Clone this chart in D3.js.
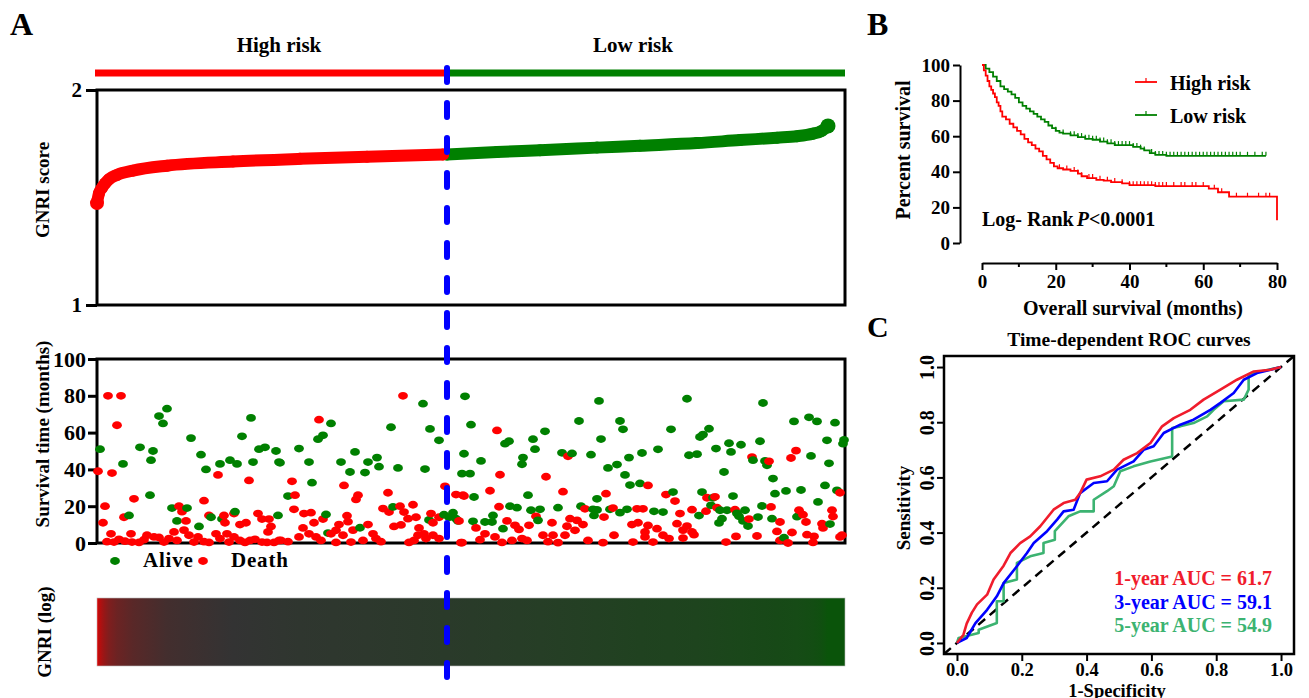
<!DOCTYPE html>
<html>
<head>
<meta charset="utf-8">
<script src="https://cdn.jsdelivr.net/npm/d3@7"></script>
<style>
  body { margin: 0; background: #fff; }
  svg text { font-family: "Liberation Serif", "Times New Roman", serif; font-weight: bold; fill: #000; }
</style>
</head>
<body>
<svg id="fig" width="1309" height="698"></svg>
<script>
// ---------------- Data ----------------
// Panel A: patients ranked by GNRI score
const nPatients = 748;
const cutRank = 350;               // high / low risk split
const riskGroups = ["High risk", "Low risk"];

// GNRI score along the ranking (high-risk part, then low-risk part)
const highRanks  = [0, 2, 5, 8, 12, 20, 36, 70, 136, 203, 270, 346];
const highScores = [1.474, 1.52, 1.545, 1.565, 1.585, 1.605, 1.625, 1.648, 1.667, 1.68, 1.69, 1.70];
const lowRanks   = [350, 400, 443, 500, 543, 600, 643, 680, 700, 716, 724, 731];
const lowScores  = [1.700, 1.712, 1.72, 1.732, 1.741, 1.753, 1.767, 1.778, 1.785, 1.797, 1.808, 1.833];

// Survival time (months) per patient rank
const alive = [
  [3,51],[26,43],[43,52],[56,50],[54,45],[62,69],[70,73],[66,65],[94,57],[104,48],[109,40],[123,43],[133,45],[140,43],
  [145,58],[154,68],[156,44],[162,51],[168,52],[179,50],[182,44],[53,26],[32,15],[75,19],[90,19],[80,12],[102,9],
  [114,14],[125,13],[138,17],[181,15],
  [234,65],[226,58.5],[221,56.4],[202,51.3],[183,43.6],[212,44],[258,49.5],[244,44],[253,38.6],[268,38.3],[271,44],
  [280,46.4],[282,41.5],[301,40.8],[328,40.2],[294,62.9],[326,75.7],[333,62],[342,55.8],[368,79.7],[367,48.5],
  [365,37.7],[215,32.8],[191,25.5],[229,15.5],[231,5.4],[263,8.3],[296,19.6],[332,12.5],[347,15.4],[356,16.5],
  [359,13.2],[352,14],[361,12],
  [374,64.3],[384,44.6],[373,37.7],[377,25],[408,54],[412,55.3],[426,46.4],[425,42.8],[436,56.4],[438,51],[448,60.7],
  [465,49],[475,48.7],[482,66.3],[494,48],[502,77.2],[504,56.5],[523,66.3],[526,61.8],[511,40.8],[520,42.6],[532,46.4],
  [545,48.9],[528,37],[533,31.5],[543,32.4],[431,26],[500,24],[413,20],[420,19.2],[434,17.8],[443,18.3],[461,19.2],
  [484,20],[496,18.3],[500,18],[497,15],[513,18.3],[523,16.5],[530,18.3],[396,15],[395,11.4],[388,11.4],[376,11.8],
  [406,7.8],[441,12.3],
  [590,78.4],[666,76.1],[574,61.8],[561,50.9],[603,57.6],[606,58.9],[612,62.1],[592,47.7],[600,48.3],[619,51.3],
  [632,54.2],[634,49.5],[644,53.4],[663,55.3],[656,45],[668,44.6],[670,42.2],[627,38.6],[697,66.1],[712,68.3],
  [720,66.1],[738,65.4],[730,55.8],[747,56],[746,54],[714,47.3],[732,43.3],[676,35],[678,26.8],[689,28.3],[704,28.8],
  [728,31.3],[740,28.6],[721,22.3],[636,25.5],[576,27.7],[605,27.7],[616,24.6],[614,20.5],[557,17.2],[566,16.8],
  [602,14.9],[623,17.8],[630,17.8],[640,16.1],[648,17.8],[642,14.5],[665,20.1],[661,14.1],[675,13.2],[625,13.2],
  [622,10.9],[646,12],[651,9.2],[700,14.3],[733,10.3],[687,2.9]
];
const dead = [
  [11,80],[24,80],[20,64],[1,39],[15,38],[121,37],[152,34],[8,20],[37,24],[6,11],[27,14],[82,20],[85,17],[89,12],
  [107,23],[112,15],[127,15],[128,11],[137,16],[143,10],[149,11],[161,16],[165,13],[172,13],[174,9],[171,6],[119,5],
  [14,5],[34,5],[77,6],
  [10,0.7],[17,0.5],[22,2],[28,1],[35,0.5],[42,0.3],[47,1.8],[50,4.2],[57,3.3],[62,3],[67,0.5],[72,2.4],[80,1.4],
  [87,7],[92,4.2],[97,0.5],[101,3.3],[107,0.7],[112,0.3],[123,2.4],[130,5],[132,0.5],[137,3.3],[143,1.4],[148,0.3],
  [153,1.4],[158,2],[165,0.5],[170,0.3],[177,0.3],[182,1.4],
  [306,80],[222,67],[195,33.5],[198,26],[247,31.3],[261,26],[259,23.7],[291,27.3],[348,30.8],[359,26.3],[366,26],
  [316,20.8],[303,20],[286,18.7],[292,16.8],[307,16.8],[311,13.2],[319,14],[322,8.2],[334,16],[336,11],[342,14],
  [197,18.3],[207,16],[214,16.5],[226,13],[217,11],[206,8.2],[242,10],[250,14.8],[251,11.6],[271,10],[239,6.9],
  [234,5],[246,4.2],[256,7],[276,5],[279,2.4],[297,9],[304,9.8],[321,4.2],[327,5],[336,4.2],[342,2.4],[184,1.4],
  [191,0.7],[202,3.3],[212,5],[219,3.3],[224,1.4],[239,0.3],[254,0.5],[266,1.4],[284,0.7],[312,0.3],[317,1.4],
  [329,2.4],[364,0.2],[362,12],
  [400,61.2],[403,37.1],[449,36],[393,28.4],[367,25.5],[466,27.9],[471,47.1],[509,26.8],[402,19.7],[488,18.6],
  [507,14.1],[516,19],[540,18.6],[546,18.6],[439,14.5],[410,12],[432,9.6],[418,9.6],[422,7.4],[379,8.2],[455,11],
  [473,13.2],[480,12.3],[470,9.1],[478,6.9],[486,10],[535,10],[541,11],[548,6],[551,9.5],[551,31.3],[388,5],
  [398,3.3],[383,1.8],[365,0.2],[405,0.3],[415,1.4],[425,2.4],[430,1.4],[446,4.2],[451,0.7],[456,4.2],[461,0.2],
  [468,4.2],[491,1.4],[506,0.2],[517,4.2],[536,0.5],[548,3.3],
  [569,26.3],[578,22.8],[610,24.6],[618,25.1],[655,46.7],[672,44.4],[694,46.2],[699,50.2],[743,27.3],[674,19.6],
  [702,17.8],[706,15.4],[735,17.8],[736,14.4],[595,18.1],[583,16],[609,17.3],[620,19.2],[638,18.1],[652,13],
  [580,10.5],[590,9.2],[595,6],[586,7],[560,7.8],[683,11.4],[680,6.3],[695,5.7],[709,11.4],[725,10.5],[726,8.2],
  [566,4.2],[572,2.4],[586,2.7],[597,4.5],[639,3.6],[660,3.8],[710,4.5],[717,3.6],[745,4.2],[556,0.5],[629,0.5],
  [683,1.4],[691,0],[716,0.3],[743,3.3]
];
const scoreTicks = [1, 2];
const timeTicks = [0, 20, 40, 60, 80, 100];

// Panel B: Kaplan-Meier estimates (months, percent survival)
const kmHigh = [
  [0,100],[0.5,97],[1,94],[1.5,91],[2,88],[2.5,86],[3,84],[3.5,82],[4,79],[4.5,77],[5,74],[5.5,71],[6.5,69.5],
  [7.5,67],[8.5,65],[9.5,63],[10.5,61],[11.5,58.5],[12.5,56.5],[13.5,55],[14.5,53],[15.5,51.5],[16.5,49],[17.5,47],
  [18.5,45],[19.5,43],[20.5,42],[22,41.3],[24,40.5],[26,39],[27,37.5],[28.5,36.5],[31,35.5],[33,35],[35,34.2],
  [38,33.5],[40,32.5],[47,32],[61.5,30.5],[64,28.5],[67,26],[80,26],[80,12.8]
];
const kmLow = [
  [0,100],[1,98],[2,96],[3,93.5],[4,91],[5,88],[6,86.5],[7,85],[8,83.5],[9,81.5],[10,79],[11,77],[12,75.5],[13,74],
  [14,72.5],[15,71],[16,69.5],[17,68],[18,66],[19,64.5],[20,63],[21,62],[22,61.5],[24,60.5],[26,59.5],[28,58.5],
  [30,58],[32,57],[34,56],[36,55],[39,55],[41,54],[43,53],[44,52],[45.5,50.5],[47,49.5],[50,49],[77,49]
];
const censorHigh = [21,23,25,26,27,29,30,32,34,36,38,40,41,42,43,44,45,46,47,48,49,50,52,54,55,57,58,60,63,65,69,72,75,77,78];
const censorLow = [20,22,24,25,26,27,28,29,30,31,32,33,34,35,36,37,38,39,40,41,42,43,44,46,47,48,49,50,51,52,53,54,
  55,56,57,58,59,60,61,62,63,64,65,66,67,68,69,70,72,74,76,77];
const kmXTicks = [0, 20, 40, 60, 80];
const kmXMinor = [10, 30, 50, 70];
const kmYTicks = [0, 20, 40, 60, 80, 100];

// Panel C: time-dependent ROC curves (1-specificity, sensitivity)
const roc1 = [[0,0],[0.02,0.03],[0.03,0.07],[0.046,0.11],[0.062,0.14],[0.093,0.175],[0.113,0.23],[0.144,0.28],
  [0.165,0.326],[0.195,0.362],[0.226,0.386],[0.257,0.423],[0.298,0.483],[0.329,0.507],[0.365,0.519],[0.38,0.543],
  [0.40,0.592],[0.442,0.604],[0.484,0.628],[0.514,0.664],[0.556,0.688],[0.597,0.725],[0.633,0.785],[0.669,0.815],
  [0.72,0.845],[0.761,0.882],[0.813,0.918],[0.864,0.954],[0.916,0.984],[0.967,0.99],[1,1]];
const roc3 = [[0,0],[0.03,0.018],[0.057,0.072],[0.093,0.12],[0.123,0.169],[0.144,0.217],[0.185,0.278],[0.216,0.326],
  [0.237,0.362],[0.278,0.405],[0.309,0.447],[0.329,0.477],[0.36,0.483],[0.38,0.543],[0.422,0.58],[0.463,0.586],
  [0.494,0.628],[0.545,0.658],[0.576,0.7],[0.607,0.713],[0.638,0.761],[0.689,0.791],[0.73,0.809],[0.782,0.845],
  [0.813,0.87],[0.854,0.906],[0.885,0.954],[0.926,0.978],[1,1]];
const roc5 = [[0,0],[0.005,0.018],[0.067,0.036],[0.067,0.048],[0.123,0.072],[0.123,0.151],[0.144,0.151],[0.144,0.217],
  [0.185,0.23],[0.185,0.29],[0.226,0.314],[0.267,0.326],[0.267,0.362],[0.302,0.374],[0.302,0.405],[0.344,0.459],
  [0.38,0.477],[0.422,0.477],[0.422,0.519],[0.463,0.55],[0.484,0.568],[0.504,0.622],[0.545,0.64],[0.597,0.658],
  [0.664,0.676],[0.664,0.779],[0.689,0.785],[0.73,0.797],[0.772,0.821],[0.792,0.845],[0.823,0.876],[0.885,0.882],
  [0.9,0.918],[0.9,0.972],[0.936,0.984],[1,1]];
const aucLabels = ["1-year AUC = 61.7", "3-year AUC = 59.1", "5-year AUC = 54.9"];
const rocTicks = [0, 0.2, 0.4, 0.6, 0.8, 1.0];

// ---------------- Drawing ----------------
const RED = "#ff0000", GREEN = "#008000", BLUE = "#0000ff";
const svg = d3.select("#fig");

function styleAxis(g, w) {
  g.selectAll(".tick line").attr("stroke", "#000").attr("stroke-width", w);
  g.selectAll("path.domain").attr("stroke", "#000").attr("stroke-width", w);
  g.selectAll("text").attr("fill", "#000").style("font-family", '"Liberation Serif", serif').style("font-weight", "bold");
}
function label(x, y, txt, size, opts = {}) {
  const t = svg.append("text").attr("x", x).attr("y", y).attr("font-size", size).text(txt);
  if (opts.anchor) t.attr("text-anchor", opts.anchor);
  if (opts.fill) t.style("fill", opts.fill);
  return t;
}
function vlabel(cx, cy, txt, size) {
  return svg.append("text").attr("transform", `translate(${cx},${cy}) rotate(-90)`)
    .attr("text-anchor", "middle").attr("dominant-baseline", "central").attr("font-size", size).text(txt);
}

// ===== Panel A =====
const xA = d3.scaleLinear().domain([0, nPatients]).range([97, 845]);
const yScore = d3.scaleLinear().domain([1, 2]).range([305, 90]);
const yTime = d3.scaleLinear().domain([0, 100]).range([543, 359]);

label(10, 35, "A", 32);
label(279, 52, riskGroups[0], 21, {anchor: "middle"});
label(633, 52, riskGroups[1], 21, {anchor: "middle"});

// risk group strip
svg.append("line").attr("x1", xA(0) - 2).attr("x2", xA(cutRank)).attr("y1", 73).attr("y2", 73)
  .attr("stroke", RED).attr("stroke-width", 7);
svg.append("line").attr("x1", xA(cutRank)).attr("x2", xA(nPatients)).attr("y1", 73).attr("y2", 73)
  .attr("stroke", GREEN).attr("stroke-width", 7);

// GNRI score panel
svg.append("rect").attr("x", 97).attr("y", 90).attr("width", 748).attr("height", 215)
  .attr("fill", "none").attr("stroke", "#000").attr("stroke-width", 3);
const gyS = svg.append("g").attr("transform", "translate(97,0)")
  .call(d3.axisLeft(yScore).tickValues(scoreTicks).tickSize(11).tickSizeOuter(0).tickPadding(4).tickFormat(d3.format("d")));
gyS.select(".domain").remove();
styleAxis(gyS, 3);
gyS.selectAll("text").attr("font-size", 21);
vlabel(42, 190, "GNRI score", 19);

const scoreLine = d3.line().x(d => xA(d[0])).y(d => yScore(d[1])).curve(d3.curveMonotoneX);
const highPts = highRanks.map((r, i) => [r, highScores[i]]);
const lowPts = lowRanks.map((r, i) => [r, lowScores[i]]);
svg.append("path").attr("d", scoreLine(lowPts)).attr("fill", "none").attr("stroke", GREEN)
  .attr("stroke-width", 12).attr("stroke-linecap", "round");
svg.selectAll("circle.low").data(lowPts).join("circle").attr("class", "low")
  .attr("cx", d => xA(d[0])).attr("cy", d => yScore(d[1])).attr("r", 6).attr("fill", GREEN);
svg.append("circle").attr("cx", xA(lowPts[lowPts.length - 1][0])).attr("cy", yScore(lowPts[lowPts.length - 1][1]))
  .attr("r", 7.5).attr("fill", GREEN);
svg.append("path").attr("d", scoreLine(highPts)).attr("fill", "none").attr("stroke", RED)
  .attr("stroke-width", 12).attr("stroke-linecap", "round");
svg.selectAll("circle.high").data(highPts).join("circle").attr("class", "high")
  .attr("cx", d => xA(d[0])).attr("cy", d => yScore(d[1])).attr("r", 6).attr("fill", RED);
svg.append("circle").attr("cx", xA(highPts[0][0])).attr("cy", yScore(highPts[0][1])).attr("r", 7).attr("fill", RED);

// survival time panel
svg.append("rect").attr("x", 97).attr("y", 359).attr("width", 748).attr("height", 184)
  .attr("fill", "none").attr("stroke", "#000").attr("stroke-width", 3);
const gyT = svg.append("g").attr("transform", "translate(97,0)")
  .call(d3.axisLeft(yTime).tickValues(timeTicks).tickSize(9).tickSizeOuter(0).tickPadding(2));
gyT.select(".domain").remove();
styleAxis(gyT, 3);
gyT.selectAll("text").attr("font-size", 22);
vlabel(42, 434, "Survival time (months)", 19);

const pts = alive.map(d => ({r: d[0], t: d[1], s: 0})).concat(dead.map(d => ({r: d[0], t: d[1], s: 1})))
  .sort((a, b) => a.r - b.r);
svg.append("g").selectAll("ellipse").data(pts).join("ellipse")
  .attr("cx", d => xA(d.r)).attr("cy", d => yTime(d.t)).attr("rx", 4.9).attr("ry", 3.9)
  .attr("fill", d => d.s ? RED : GREEN);

// legend
svg.append("ellipse").attr("cx", 115).attr("cy", 561).attr("rx", 4.9).attr("ry", 3.9).attr("fill", GREEN);
label(143, 567, "Alive", 21).attr("letter-spacing", 0.8);
svg.append("ellipse").attr("cx", 203).attr("cy", 561).attr("rx", 4.9).attr("ry", 3.9).attr("fill", RED);
label(231, 567, "Death", 21).attr("letter-spacing", 0.8);

// GNRI colour strip
const scoreColor = d3.scaleLinear().domain([1.474, 1.665, 1.833]).range(["#e80000", "#333333", "#0a540a"]);
const grad = svg.append("defs").append("linearGradient").attr("id", "gnriGrad");
highPts.concat(lowPts).forEach(d => {
  grad.append("stop").attr("offset", d[0] / nPatients).attr("stop-color", scoreColor(d[1]));
});
svg.append("rect").attr("x", xA(0)).attr("y", 598).attr("width", xA(nPatients) - xA(0)).attr("height", 68)
  .attr("fill", "url(#gnriGrad)").attr("stroke", "#bbb").attr("stroke-width", 0.6);
vlabel(44, 632, "GNRI (log)", 19);

// cut-off line
svg.append("line").attr("x1", xA(cutRank)).attr("x2", xA(cutRank)).attr("y1", 68).attr("y2", 680)
  .attr("stroke", BLUE).attr("stroke-width", 6).attr("stroke-dasharray", "14 21").attr("stroke-linecap", "round");

// ===== Panel B =====
const xKM = d3.scaleLinear().domain([0, 80]).range([982, 1277]);
const yKM = d3.scaleLinear().domain([0, 100]).range([243, 65]);
label(867, 35, "B", 32);

const gyK = svg.append("g").attr("transform", "translate(960,0)")
  .call(d3.axisLeft(yKM).tickValues(kmYTicks).tickSize(7).tickSizeOuter(0).tickPadding(3));
styleAxis(gyK, 2);
gyK.selectAll("text").attr("font-size", 19);
const gxK = svg.append("g").attr("transform", "translate(0,263)")
  .call(d3.axisBottom(xKM).tickValues(kmXTicks).tickSize(7).tickSizeOuter(0).tickPadding(5));
styleAxis(gxK, 2);
gxK.selectAll("text").attr("font-size", 19);
gxK.selectAll("line.minor").data(kmXMinor).join("line").attr("class", "minor")
  .attr("x1", d => xKM(d)).attr("x2", d => xKM(d)).attr("y1", 0).attr("y2", 4)
  .attr("stroke", "#000").attr("stroke-width", 2);
vlabel(903, 150, "Percent survival", 20);
label(1133, 315, "Overall survival (months)", 20, {anchor: "middle"});

const kmLine = d3.line().x(d => xKM(d[0])).y(d => yKM(d[1])).curve(d3.curveStepAfter);
function survAt(km, t) { let s = km[0][1]; for (const p of km) { if (p[0] <= t) s = p[1]; } return s; }
[[kmLow, censorLow, GREEN], [kmHigh, censorHigh, RED]].forEach(([km, cens, col]) => {
  svg.append("path").attr("d", kmLine(km)).attr("fill", "none").attr("stroke", col).attr("stroke-width", 1.8);
  svg.append("g").selectAll("line").data(cens).join("line")
    .attr("x1", d => xKM(d)).attr("x2", d => xKM(d))
    .attr("y1", d => yKM(survAt(km, d)) - 4).attr("y2", d => yKM(survAt(km, d)))
    .attr("stroke", col).attr("stroke-width", 1.2);
});
// legend
[[RED, 82, riskGroups[0]], [GREEN, 115, riskGroups[1]]].forEach(([col, y, txt]) => {
  svg.append("line").attr("x1", 1135).attr("x2", 1157).attr("y1", y).attr("y2", y).attr("stroke", col).attr("stroke-width", 1.8);
  svg.append("line").attr("x1", 1146).attr("x2", 1146).attr("y1", y - 4).attr("y2", y).attr("stroke", col).attr("stroke-width", 1.2);
  label(1170, y + 8, txt, 20);
});
const lr = label(982, 226, "Log- Rank", 20);
lr.append("tspan").attr("font-style", "italic").attr("dx", 3).text("P");
lr.append("tspan").text("<0.0001");

// ===== Panel C =====
const xR = d3.scaleLinear().domain([-0.04, 1.04]).range([944, 1294]);
const yR = d3.scaleLinear().domain([-0.04, 1.04]).range([654, 356]);
label(867, 337, "C", 30);
label(1129, 346, "Time-dependent ROC curves", 19.5, {anchor: "middle"});

const gxR = svg.append("g").attr("transform", "translate(0,654)")
  .call(d3.axisBottom(xR).tickValues(rocTicks).tickSize(7).tickSizeOuter(0).tickPadding(2).tickFormat(d3.format(".1f")));
gxR.select(".domain").remove();
styleAxis(gxR, 2);
gxR.selectAll("text").attr("font-size", 18.5);
const gyR = svg.append("g").attr("transform", "translate(944,0)")
  .call(d3.axisLeft(yR).tickValues(rocTicks).tickSize(7).tickSizeOuter(0).tickFormat(d3.format(".1f")));
gyR.select(".domain").remove();
styleAxis(gyR, 2);
gyR.selectAll("text").attr("font-size", 20).attr("x", null).attr("dy", null)
  .attr("text-anchor", "middle").attr("dominant-baseline", "central")
  .attr("transform", "translate(-17,0) rotate(-90)");

// diagonal reference
svg.append("line").attr("x1", xR(-0.04)).attr("y1", yR(-0.04)).attr("x2", xR(1.04)).attr("y2", yR(1.04))
  .attr("stroke", "#000").attr("stroke-width", 2.5).attr("stroke-dasharray", "9 6");

const rocLine = d3.line().x(d => xR(d[0])).y(d => yR(d[1]));
const rocCols = ["#f01c2c", "#0000ff", "#3cb371"];
[[roc5, rocCols[2]], [roc3, rocCols[1]], [roc1, rocCols[0]]].forEach(([d, c]) => {
  svg.append("path").attr("d", rocLine(d)).attr("fill", "none").attr("stroke", c).attr("stroke-width", 2.6)
    .attr("stroke-linejoin", "round");
});
svg.append("rect").attr("x", 944).attr("y", 356).attr("width", 350).attr("height", 298)
  .attr("fill", "none").attr("stroke", "#000").attr("stroke-width", 2.5);

aucLabels.forEach((t, i) => label(1272, 585 + i * 23.5, t, 20, {anchor: "end", fill: rocCols[i]}));
vlabel(903, 508, "Sensitivity", 19);
label(1117, 697, "1-Specificity", 18.5, {anchor: "middle"});
</script>
</body>
</html>
